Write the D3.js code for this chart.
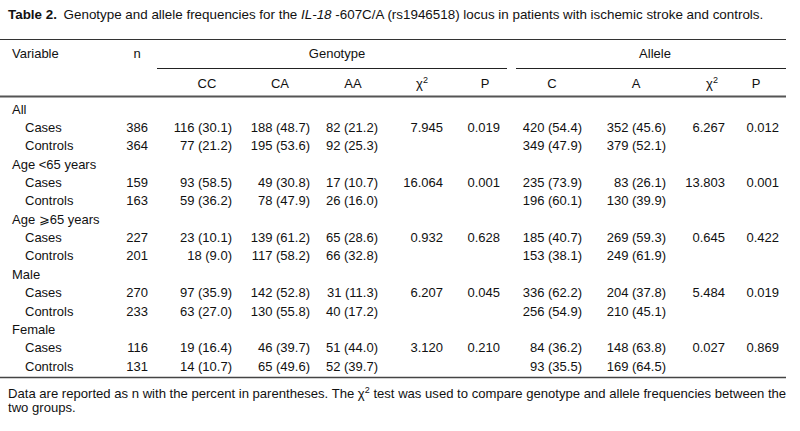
<!DOCTYPE html>
<html>
<head>
<meta charset="utf-8">
<script src="https://cdn.jsdelivr.net/npm/d3@7"></script>
<style>
  html, body { margin: 0; padding: 0; background: #fff; }
  svg { display: block; }
  text { font-family: "Liberation Sans", Arial, Helvetica, sans-serif; font-size: 13px; fill: #111; }
</style>
</head>
<body>
<svg id="chart" width="800" height="431"></svg>
<script>
// ---------- DATA ----------
const groups = ["All", "Age <65 years", "Age \u2A7E65 years", "Male", "Female"];
const subRows = ["Cases", "Controls"];
const nValues = [386, 364, 159, 163, 227, 201, 270, 233, 116, 131];
const ccN   = [116, 77, 93, 59, 23, 18, 97, 63, 19, 14];
const ccPct = [30.1, 21.2, 58.5, 36.2, 10.1, 9.0, 35.9, 27.0, 16.4, 10.7];
const caN   = [188, 195, 49, 78, 139, 117, 142, 130, 46, 65];
const caPct = [48.7, 53.6, 30.8, 47.9, 61.2, 58.2, 52.8, 55.8, 39.7, 49.6];
const aaN   = [82, 92, 17, 26, 65, 66, 31, 40, 51, 52];
const aaPct = [21.2, 25.3, 10.7, 16.0, 28.6, 32.8, 11.3, 17.2, 44.0, 39.7];
const genoChi = ["7.945", "16.064", "0.932", "6.207", "3.120"];
const genoP   = ["0.019", "0.001", "0.628", "0.045", "0.210"];
const cN   = [420, 349, 235, 196, 185, 153, 336, 256, 84, 93];
const cPct = [54.4, 47.9, 73.9, 60.1, 40.7, 38.1, 62.2, 54.9, 36.2, 35.5];
const aN   = [352, 379, 83, 130, 269, 249, 204, 210, 148, 169];
const aPct = [45.6, 52.1, 26.1, 39.9, 59.3, 61.9, 37.8, 45.1, 63.8, 64.5];
const alleleChi = ["6.267", "13.803", "0.645", "5.484", "0.027"];
const alleleP   = ["0.012", "0.001", "0.422", "0.019", "0.869"];
const headerTop = ["Variable", "n", "Genotype", "Allele"];
const headerSub = ["CC", "CA", "AA", "\u03C7|2", "P", "C", "A", "\u03C7|2", "P"];

// ---------- LAYOUT ----------
const svg = d3.select("#chart");
const fmt = (n, p) => `${n} (${p.toFixed(1)})`;

// title
const title = svg.append("text").attr("x", 8).attr("y", 19).style("font-size", "13.4px");
title.append("tspan").attr("font-weight", "bold").text("Table 2.");
title.append("tspan").text("\u2002Genotype and allele frequencies for the ");
title.append("tspan").attr("font-style", "italic").text("IL-18");
title.append("tspan").text(" -607C/A (rs1946518) locus in patients with ischemic stroke and controls.");

// rules
const rule = (x1, x2, y, w, c) => svg.append("line")
  .attr("x1", x1).attr("x2", x2).attr("y1", y).attr("y2", y)
  .attr("stroke", c).attr("stroke-width", w);
rule(0, 786, 39.5, 1.2, "#333");
rule(157, 507, 68.5, 1.2, "#222");
rule(516, 786, 68.5, 1.2, "#222");
rule(0, 786, 96.5, 2, "#555");
rule(0, 786, 377.5, 1.5, "#444");

// header rows
const hdrX = { "Variable": [12, "start"], "n": [137, "middle"], "Genotype": [337, "middle"], "Allele": [655, "middle"] };
svg.selectAll("text.h1").data(headerTop).join("text").attr("class", "h1")
  .attr("x", d => hdrX[d][0]).attr("y", 58).attr("text-anchor", d => hdrX[d][1]).text(d => d);

const subX = [207, 280, 353, 422, 485, 552, 636, 712, 756];
const sub = svg.selectAll("text.h2").data(headerSub).join("text").attr("class", "h2")
  .attr("x", (d, i) => subX[i]).attr("y", 88).attr("text-anchor", "middle");
sub.each(function(d) {
  const parts = d.split("|");
  const t = d3.select(this);
  t.append("tspan").text(parts[0]);
  if (parts[1]) t.append("tspan").attr("dy", -5).attr("font-size", "9px").text(parts[1]);
});

// body rows
const rowsCount = groups.length * 3;
const y = d3.scalePoint().domain(d3.range(rowsCount)).range([109, 366]);
const base = i => y(i) + 4.6;

groups.forEach((g, gi) => {
  const r0 = gi * 3;
  svg.append("text").attr("x", 12).attr("y", base(r0)).text(g);
  subRows.forEach((s, si) => {
    const k = gi * 2 + si;
    const r = r0 + 1 + si;
    const cells = [
      [25, "start", s],
      [148, "end", String(nValues[k])],
      [232, "end", fmt(ccN[k], ccPct[k])],
      [310, "end", fmt(caN[k], caPct[k])],
      [378, "end", fmt(aaN[k], aaPct[k])],
      [582, "end", fmt(cN[k], cPct[k])],
      [666, "end", fmt(aN[k], aPct[k])]
    ];
    if (si === 0) {
      cells.push([443, "end", genoChi[gi]], [500, "end", genoP[gi]],
                 [725, "end", alleleChi[gi]], [779, "end", alleleP[gi]]);
    }
    svg.selectAll(null).data(cells).join("text")
      .attr("x", d => d[0]).attr("y", base(r)).attr("text-anchor", d => d[1]).text(d => d[2]);
  });
});

// footnote
const fn1 = svg.append("text").attr("x", 8).attr("y", 397.5).style("font-size", "13.1px");
fn1.append("tspan").text("Data are reported as n with the percent in parentheses. The \u03C7");
fn1.append("tspan").attr("dy", -5).attr("font-size", "9px").text("2");
fn1.append("tspan").attr("dy", 5).text(" test was used to compare genotype and allele frequencies between the");
svg.append("text").attr("x", 8).attr("y", 411.5).style("font-size", "13.1px").text("two groups.");
</script>
</body>
</html>
